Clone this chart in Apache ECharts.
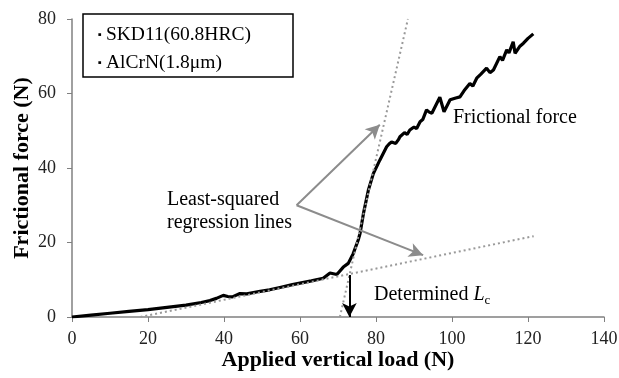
<!DOCTYPE html>
<html>
<head>
<meta charset="utf-8">
<script src="https://cdn.jsdelivr.net/npm/echarts@6/dist/echarts.min.js"></script>
<style>
  html, body { margin: 0; padding: 0; background: #fff; }
  #chart { width: 619px; height: 378px; }
</style>
</head>
<body>
<div id="chart"></div>
<script>
// frictional force curve, [load (N), force (N)]
const frictionLoad = [0, 5, 10, 15, 20, 25, 30, 34, 36.3, 38, 39.8, 41, 42.2, 44.2, 46, 49.5, 52, 55, 58, 60, 63, 66.1, 67.9, 69.7, 71.4, 72.7, 74, 75.3, 75.8, 76.7, 78, 79.3, 81, 82.8, 83.5, 84.1, 85.2, 85.9, 86.3, 87.5, 88.2, 88.9, 90.0, 90.7, 91.6, 92.3, 93.3, 94.0, 94.7, 96.8, 97.9, 99.5, 101.0, 102.1, 103.2, 104.7, 105.5, 106.5, 107.6, 109.1, 110.0, 110.9, 112.6, 113.3, 114.4, 115.0, 116.1, 116.6, 117.8, 118.8, 120.0, 120.5, 121.4];
const frictionForce = [0, 0.5, 1.0, 1.5, 2.0, 2.6, 3.2, 3.9, 4.4, 5.0, 5.8, 5.5, 5.4, 6.3, 6.2, 6.9, 7.3, 8.0, 8.7, 9.1, 9.7, 10.4, 11.8, 11.4, 13.4, 14.4, 17.0, 20.6, 22.4, 27.8, 34.1, 38.5, 42.1, 45.7, 46.5, 47.0, 46.6, 47.6, 48.4, 49.5, 49.0, 50.2, 51.0, 50.6, 52.4, 53.0, 55.6, 55.0, 54.7, 59.0, 55.1, 58.3, 58.8, 59.1, 60.8, 62.7, 62.0, 64.1, 65.2, 66.8, 65.6, 66.3, 69.9, 68.9, 71.7, 70.9, 73.9, 70.8, 72.6, 73.5, 74.8, 74.4, 76.0];

// least-squared regression lines (end points)
const steepLine = [[70.5, 0], [88.4, 80]];
const shallowLine = [[18, 0], [121.5, 21.7]];

// annotation arrows (data coordinates)
const arrowFrom = [59.1, 30.0];
const arrowToSteep = [81.0, 51.6];
const arrowToShallow = [92.4, 16.6];
const lcValue = 73.0;
const lcForce = 11.3;

const xTicks = { min: 0, max: 140, interval: 20 };
const yTicks = { min: 0, max: 80, interval: 20 };

const serif = '"Liberation Serif", "DejaVu Serif", serif';

const chart = echarts.init(document.getElementById('chart'));

const curve = frictionLoad.map((x, i) => [x, frictionForce[i]]);

const option = {
  animation: false,
  grid: { left: 72, right: 15, top: 19, bottom: 61, outerBoundsMode: 'none', containLabel: false },
  xAxis: {
    type: 'value',
    min: xTicks.min,
    max: xTicks.max,
    interval: xTicks.interval,
    name: 'Applied vertical load (N)',
    nameLocation: 'middle',
    nameGap: 32,
    nameMoveOverlap: false,
    nameTextStyle: { fontFamily: serif, fontSize: 22, fontWeight: 'bold', color: '#000' },
    axisLine: { lineStyle: { color: '#808080', width: 1.5 } },
    axisTick: { show: true, inside: false, length: 5, lineStyle: { color: '#808080' } },
    axisLabel: { fontFamily: serif, fontSize: 18, color: '#222', margin: 13 },
    splitLine: { show: false }
  },
  yAxis: {
    type: 'value',
    min: yTicks.min,
    max: yTicks.max,
    interval: yTicks.interval,
    name: 'Frictional force (N)',
    nameLocation: 'middle',
    nameGap: 39,
    nameMoveOverlap: false,
    nameTextStyle: { fontFamily: serif, fontSize: 22, fontWeight: 'bold', color: '#000' },
    axisLine: { show: true, lineStyle: { color: '#808080', width: 1.5 } },
    axisTick: { show: true, inside: false, length: 5, lineStyle: { color: '#808080' } },
    axisLabel: { fontFamily: serif, fontSize: 18, color: '#222', margin: 16 },
    splitLine: { show: false }
  },
  series: [
    {
      name: 'Frictional force',
      type: 'line',
      data: curve,
      showSymbol: false,
      lineStyle: { color: '#000', width: 3.2 },
      z: 2
    },
    {
      name: 'Regression steep',
      type: 'line',
      data: steepLine,
      showSymbol: false,
      lineStyle: { color: '#999', width: 2, type: [2, 3] },
      z: 3
    },
    {
      name: 'Regression shallow',
      type: 'line',
      data: shallowLine,
      showSymbol: false,
      lineStyle: { color: '#999', width: 2, type: [2, 3] },
      z: 3,
      markLine: {
        silent: true,
        symbol: ['none', 'arrow'],
        symbolSize: [11, 14],
        label: { show: false },
        data: [
          [{ coord: arrowFrom, lineStyle: { color: '#8c8c8c', width: 2, type: 'solid' } }, { coord: arrowToSteep }],
          [{ coord: arrowFrom, lineStyle: { color: '#8c8c8c', width: 2, type: 'solid' } }, { coord: arrowToShallow }],
          [{ coord: [lcValue, lcForce], lineStyle: { color: '#000', width: 2, type: 'solid' } }, { coord: [lcValue, 0] }]
        ]
      }
    }
  ],
  graphic: [
    {
      type: 'rect',
      shape: { x: 83, y: 14, width: 210, height: 63 },
      style: { fill: '#fff', stroke: '#000', lineWidth: 1.5 },
      z: 10
    },
    {
      type: 'text',
      x: 98, y: 35,
      style: {
        text: '{b|\u25aa}{t|SKD11(60.8HRC)}',
        verticalAlign: 'middle',
        rich: {
          b: { fontFamily: serif, fontSize: 11, color: '#000', padding: [0, 4, 0, 0] },
          t: { fontFamily: serif, fontSize: 19.5, color: '#000' }
        }
      },
      z: 11
    },
    {
      type: 'text',
      x: 98, y: 63,
      style: {
        text: '{b|\u25aa}{t|AlCrN(1.8\u03bcm)}',
        verticalAlign: 'middle',
        rich: {
          b: { fontFamily: serif, fontSize: 11, color: '#000', padding: [0, 4, 0, 0] },
          t: { fontFamily: serif, fontSize: 19.5, color: '#000' }
        }
      },
      z: 11
    },
    {
      type: 'text',
      x: 453, y: 118,
      style: { text: 'Frictional force', font: '20px ' + serif, fill: '#000', verticalAlign: 'middle' },
      z: 11
    },
    {
      type: 'text',
      x: 167, y: 200,
      style: { text: 'Least-squared', font: '20px ' + serif, fill: '#000', verticalAlign: 'middle' },
      z: 11
    },
    {
      type: 'text',
      x: 167, y: 223,
      style: { text: 'regression lines', font: '20px ' + serif, fill: '#000', verticalAlign: 'middle' },
      z: 11
    },
    {
      type: 'text',
      x: 374, y: 295,
      style: {
        text: '{n|Determined }{i|L}{s|c}',
        verticalAlign: 'middle',
        rich: {
          n: { fontFamily: serif, fontSize: 20, color: '#000' },
          i: { fontFamily: serif, fontSize: 20, fontStyle: 'italic', color: '#000' },
          s: { fontFamily: serif, fontSize: 13, color: '#000', padding: [12, 0, 0, 0] }
        }
      },
      z: 11
    }
  ]
};

chart.setOption(option);
</script>
</body>
</html>
